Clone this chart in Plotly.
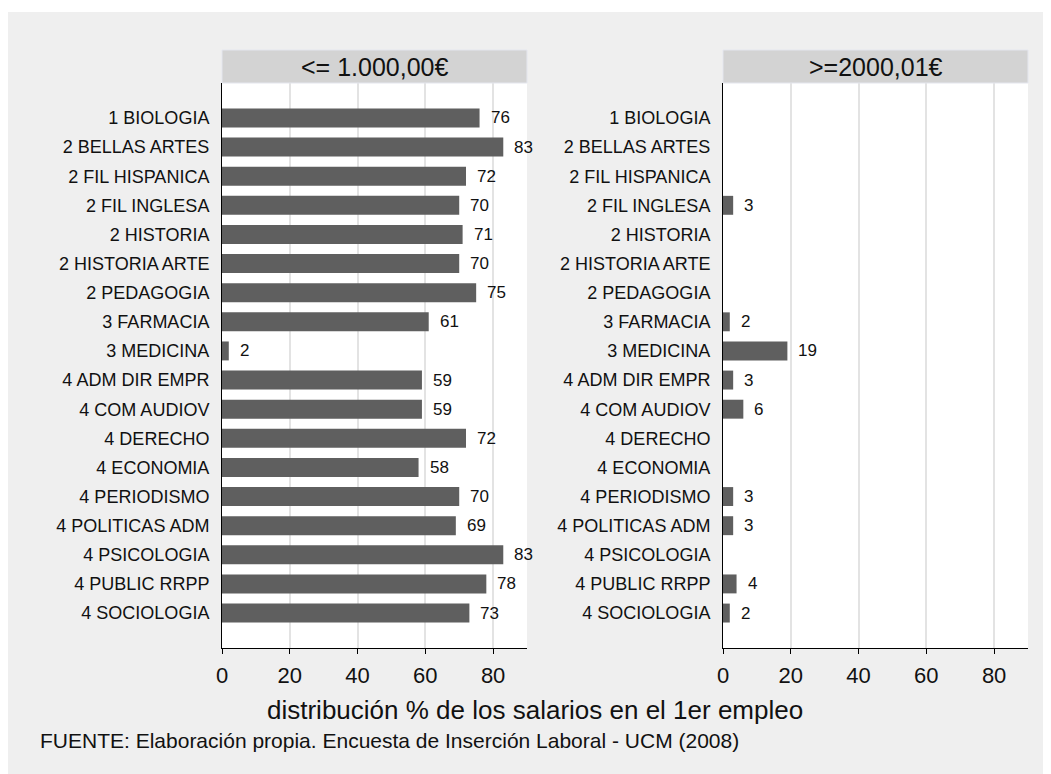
import plotly.graph_objects as go

categories = ["1 BIOLOGIA", "2 BELLAS ARTES", "2 FIL HISPANICA", "2 FIL INGLESA",
              "2 HISTORIA", "2 HISTORIA ARTE", "2 PEDAGOGIA", "3 FARMACIA",
              "3 MEDICINA", "4 ADM DIR EMPR", "4 COM AUDIOV", "4 DERECHO",
              "4 ECONOMIA", "4 PERIODISMO", "4 POLITICAS ADM", "4 PSICOLOGIA",
              "4 PUBLIC RRPP", "4 SOCIOLOGIA"]
low_salary = [76, 83, 72, 70, 71, 70, 75, 61, 2, 59, 59, 72, 58, 70, 69, 83, 78, 73]
high_salary = [None, None, None, 3, None, None, None, 2, 19, 3, 6, None, None, 3, 3, None, 4, 2]
panel_titles = ["<= 1.000,00€", ">=2000,01€"]
x_ticks = [0, 20, 40, 60, 80]
x_title = "distribución % de los salarios en el 1er empleo"
footer = "FUENTE: Elaboración propia. Encuesta de Inserción Laboral - UCM (2008)"

W, H = 1051, 774
OFF = 8  # page body margin
# target positions in screenshot pixels
PL, PR, PT, PB = 222, 1028, 83, 648
ML = PL - OFF
MR = W - (PR - OFF)
MT = PT - OFF
MB = H - (PB - OFF)
PW = W - ML - MR
PH = H - MT - MB

def px_x(px):
    return (px - PL) / PW

def px_y(py):
    return (PB - py) / PH

FONT = "Liberation Sans, Arial, sans-serif"
BAR = "#5f5f5f"
dom1 = [0, px_x(527)]
dom2 = [px_x(723), 1]

fig = go.Figure()
fig.add_trace(go.Bar(x=low_salary, y=categories, orientation="h", marker_color=BAR,
                     marker_line_width=0, xaxis="x", yaxis="y", showlegend=False))
fig.add_trace(go.Bar(x=high_salary, y=categories, orientation="h", marker_color=BAR,
                     marker_line_width=0, xaxis="x2", yaxis="y2", showlegend=False))

annotations = []
for xs, ya, xa in [(low_salary, "y", "x"), (high_salary, "y2", "x2")]:
    for c, v in zip(categories, xs):
        if v is None:
            continue
        annotations.append(dict(x=v, y=c, xref=xa, yref=ya, text=str(v), showarrow=False,
                                xanchor="left", yanchor="middle", xshift=9,
                                font=dict(family=FONT, size=17, color="#111111")))

shapes = []
for dom, title in zip([dom1, dom2], panel_titles):
    shapes.append(dict(type="rect", xref="paper", yref="paper", x0=dom[0], x1=dom[1],
                       y0=px_y(83), y1=px_y(50), fillcolor="#d3d3d3",
                       line=dict(color="#e4e6ee", width=1), layer="above"))
    annotations.append(dict(x=(dom[0] + dom[1]) / 2, y=px_y(66.5), xref="paper", yref="paper",
                            text=title, showarrow=False, xanchor="center", yanchor="middle",
                            font=dict(family=FONT, size=25, color="#111111")))

# thin white strip at top of the figure
shapes.append(dict(type="rect", xref="paper", yref="paper", x0=px_x(0), x1=px_x(W + 20),
                   y0=px_y(12), y1=px_y(0), fillcolor="white", line_width=0))

annotations.append(dict(x=px_x(535), y=px_y(710), xref="paper", yref="paper", text=x_title,
                        showarrow=False, xanchor="center", yanchor="middle",
                        font=dict(family=FONT, size=26, color="#111111")))
annotations.append(dict(x=px_x(38), y=px_y(740), xref="paper", yref="paper", text=footer,
                        showarrow=False, xanchor="left", yanchor="middle",
                        font=dict(family=FONT, size=21, color="#111111")))

xaxis_common = dict(range=[0, 90], tickvals=x_ticks, showgrid=True, gridcolor="#e3e3e3",
                    gridwidth=1.5, showline=True, linecolor="black", linewidth=1,
                    ticks="outside", ticklen=5, tickcolor="black", zeroline=False,
                    ticklabelstandoff=3,
                    tickfont=dict(family=FONT, size=22, color="#111111"), fixedrange=True)
yaxis_common = dict(type="category", categoryorder="array", categoryarray=categories,
                    range=[len(categories) - 1 + 1.2, -1.2], showline=True, linecolor="black",
                    linewidth=1, showgrid=False, ticks="", ticklabelstandoff=8,
                    tickfont=dict(family=FONT, size=18, color="#111111"), fixedrange=True)

fig.update_layout(
    width=W, height=H,
    margin=dict(l=ML, r=MR, t=MT, b=MB),
    paper_bgcolor="#efefef", plot_bgcolor="white",
    bargap=0.35,
    xaxis=dict(domain=dom1, anchor="y", **xaxis_common),
    xaxis2=dict(domain=dom2, anchor="y2", **xaxis_common),
    yaxis=dict(anchor="x", **yaxis_common),
    yaxis2=dict(anchor="x2", **yaxis_common),
    shapes=shapes, annotations=annotations,
    font=dict(family=FONT),
)

fig.write_html("out.html")
